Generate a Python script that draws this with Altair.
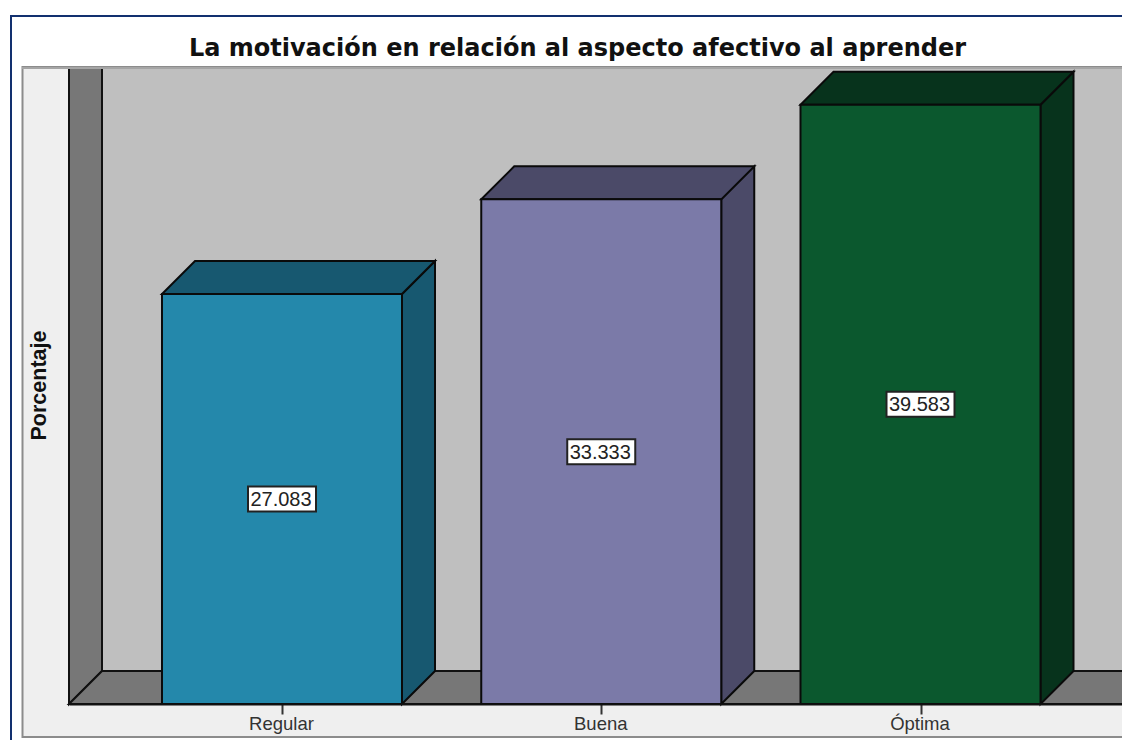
import altair as alt
import pandas as pd

TITLE = "La motivación en relación al aspecto afectivo al aprender"
categories = ["Regular", "Buena", "Óptima"]
values = [27.083, 33.333, 39.583]
front_colors = ["#2488ab", "#7b7aa8", "#0b582e"]
dark_colors = ["#175870", "#4b4a68", "#07331c"]

# Scale geometry: the category step and the height of one percentage point
STEP = 319.25
UNIT = 15.14
def ux(p): return (p - 282) / STEP
def uy(p): return (704 - p) / UNIT

DX = 33 / STEP      # oblique depth in x units
DY = 33 / UNIT      # oblique depth in y units
HALF = 120 / STEP   # half bar width
LEFT, RIGHT = ux(69), ux(1122)
TOP = uy(68)

label_expr = "[" + ",".join(f"'{c}'" for c in categories) + "][datum.value]"
xs = alt.Scale(domain=[LEFT, RIGHT], nice=False, zero=False)
ys = alt.Scale(domain=[0, TOP], nice=False, zero=False)
x_axis = alt.Axis(values=[0, 1, 2], labelExpr=label_expr, grid=False, zindex=1, title=None,
                  domain=True, domainColor="#111111", domainWidth=2,
                  tickColor="#333333", tickWidth=2, tickSize=10, labelPadding=0, labelOffset=-1,
                  labelFont="Liberation Sans", labelFontSize=18.5, labelColor="#333333")
y_axis = alt.Axis(labels=False, ticks=False, domain=False, grid=False, zindex=1, title="Porcentaje",
                  titleX=-19, titleY=317, titleAnchor="middle",
                  titleFont="Liberation Sans", titleFontSize=21.5, titleFontWeight="bold",
                  titleColor="#111111")
def XQ(f): return alt.X(f, scale=xs, axis=x_axis)
def YQ(f): return alt.Y(f, scale=ys, axis=y_axis, stack=None)

bars = pd.DataFrame({"i": range(3), "cat": categories, "v": values,
                     "front": front_colors, "dark": dark_colors})
bars["xl"] = bars.i - HALF
bars["xr"] = bars.i + HALF
bars["mid"] = bars.v / 2
bars["label"] = bars.v.map(lambda v: f"{v:.3f}")

side, top = [], []
for b in bars.itertuples():
    side += [dict(k=b.i, x=b.xr, y=0, y2=b.v, fill=b.dark),
             dict(k=b.i, x=b.xr + DX, y=DY, y2=b.v + DY, fill=b.dark)]
    top += [dict(k=b.i, x=b.xl, y=b.v, y2=b.v, fill=b.dark),
            dict(k=b.i, x=b.xl + DX, y=b.v, y2=b.v + DY, fill=b.dark),
            dict(k=b.i, x=b.xr, y=b.v, y2=b.v + DY, fill=b.dark),
            dict(k=b.i, x=b.xr + DX, y=b.v + DY, y2=b.v + DY, fill=b.dark)]
faces = pd.DataFrame(side + top)
faces["kind"] = ["side"] * len(side) + ["top"] * len(top)
faces["g"] = faces.kind + faces.k.astype(str)

def rect(x, x2, y, y2, **kw):
    return alt.Chart(pd.DataFrame([dict(x=x, x2=x2, y=y, y2=y2)])).mark_rect(**kw).encode(
        x=XQ("x:Q"), x2="x2:Q", y=YQ("y:Q"), y2="y2:Q")

def rule(x, x2, y, y2, **kw):
    return alt.Chart(pd.DataFrame([dict(x=x, x2=x2, y=y, y2=y2)])).mark_rule(**kw).encode(
        x=XQ("x:Q"), x2="x2:Q", y=YQ("y:Q"), y2="y2:Q")

panel = rect(ux(22.5), ux(1135), uy(67), uy(737), fill="#efefef", stroke="#8c8c8c", strokeWidth=2)
navy_top = rule(ux(10), ux(1135), uy(16), uy(16), stroke="#12306f", strokeWidth=2)
navy_left = rule(ux(11), ux(11), uy(16), uy(745), stroke="#12306f", strokeWidth=2)
wall = rect(LEFT + DX, RIGHT + 0.05, DY, TOP, fill="#bfbfbf")

left_wall = alt.Chart(pd.DataFrame([dict(x=LEFT, y=0, y2=TOP), dict(x=LEFT + DX, y=DY, y2=TOP)])).mark_area(
    fill="#777777", stroke="#111111", strokeWidth=2).encode(x=XQ("x:Q"), y=YQ("y:Q"), y2="y2:Q")
floor = alt.Chart(pd.DataFrame([dict(x=LEFT, y=0, y2=0), dict(x=LEFT + DX, y=0, y2=DY),
                                dict(x=RIGHT + 0.05, y=0, y2=DY)])).mark_area(
    fill="#777777", stroke="#111111", strokeWidth=2).encode(x=XQ("x:Q"), y=YQ("y:Q"), y2="y2:Q")
top_edge = rule(ux(22), ux(1135), TOP, TOP, stroke="#a5a5a5", strokeWidth=2)

face_layer = alt.Chart(faces).mark_area(stroke="#0a0a0a", strokeWidth=2).encode(
    x=XQ("x:Q"), y=YQ("y:Q"), y2="y2:Q", detail="g:N", fill=alt.Fill("fill:N", scale=None))

front = alt.Chart(bars).mark_rect(stroke="#0a0a0a", strokeWidth=2).encode(
    x=XQ("xl:Q"), x2="xr:Q", y=YQ("v:Q"), y2=alt.Y2(datum=0),
    fill=alt.Fill("front:N", scale=None))

boxes = alt.Chart(bars).mark_rect(width=68, height=25, fill="white", stroke="#222222", strokeWidth=2).encode(
    x=XQ("i:Q"), y=YQ("mid:Q"))
texts = alt.Chart(bars).mark_text(font="Liberation Sans", fontSize=20, color="#222222", baseline="middle", dx=-1, dy=1).encode(
    x=XQ("i:Q"), y=YQ("mid:Q"), text="label:N")

chart = alt.layer(panel, wall, left_wall, floor, top_edge, navy_top, navy_left,
                  face_layer, front, boxes, texts).properties(
    width=1053, height=636,
    padding={"left": 61, "top": 60, "right": 0, "bottom": 36},
    autosize=alt.AutoSizeParams(type="none"),
    background="white",
    title=alt.TitleParams(TITLE, font="DejaVu Sans", fontSize=24, fontWeight="bold", color="#111111",
                          anchor="middle", dx=-18, offset=-46),
).configure_view(stroke=None)

chart.save("out.html", embed_options={"renderer": "svg", "actions": False})
